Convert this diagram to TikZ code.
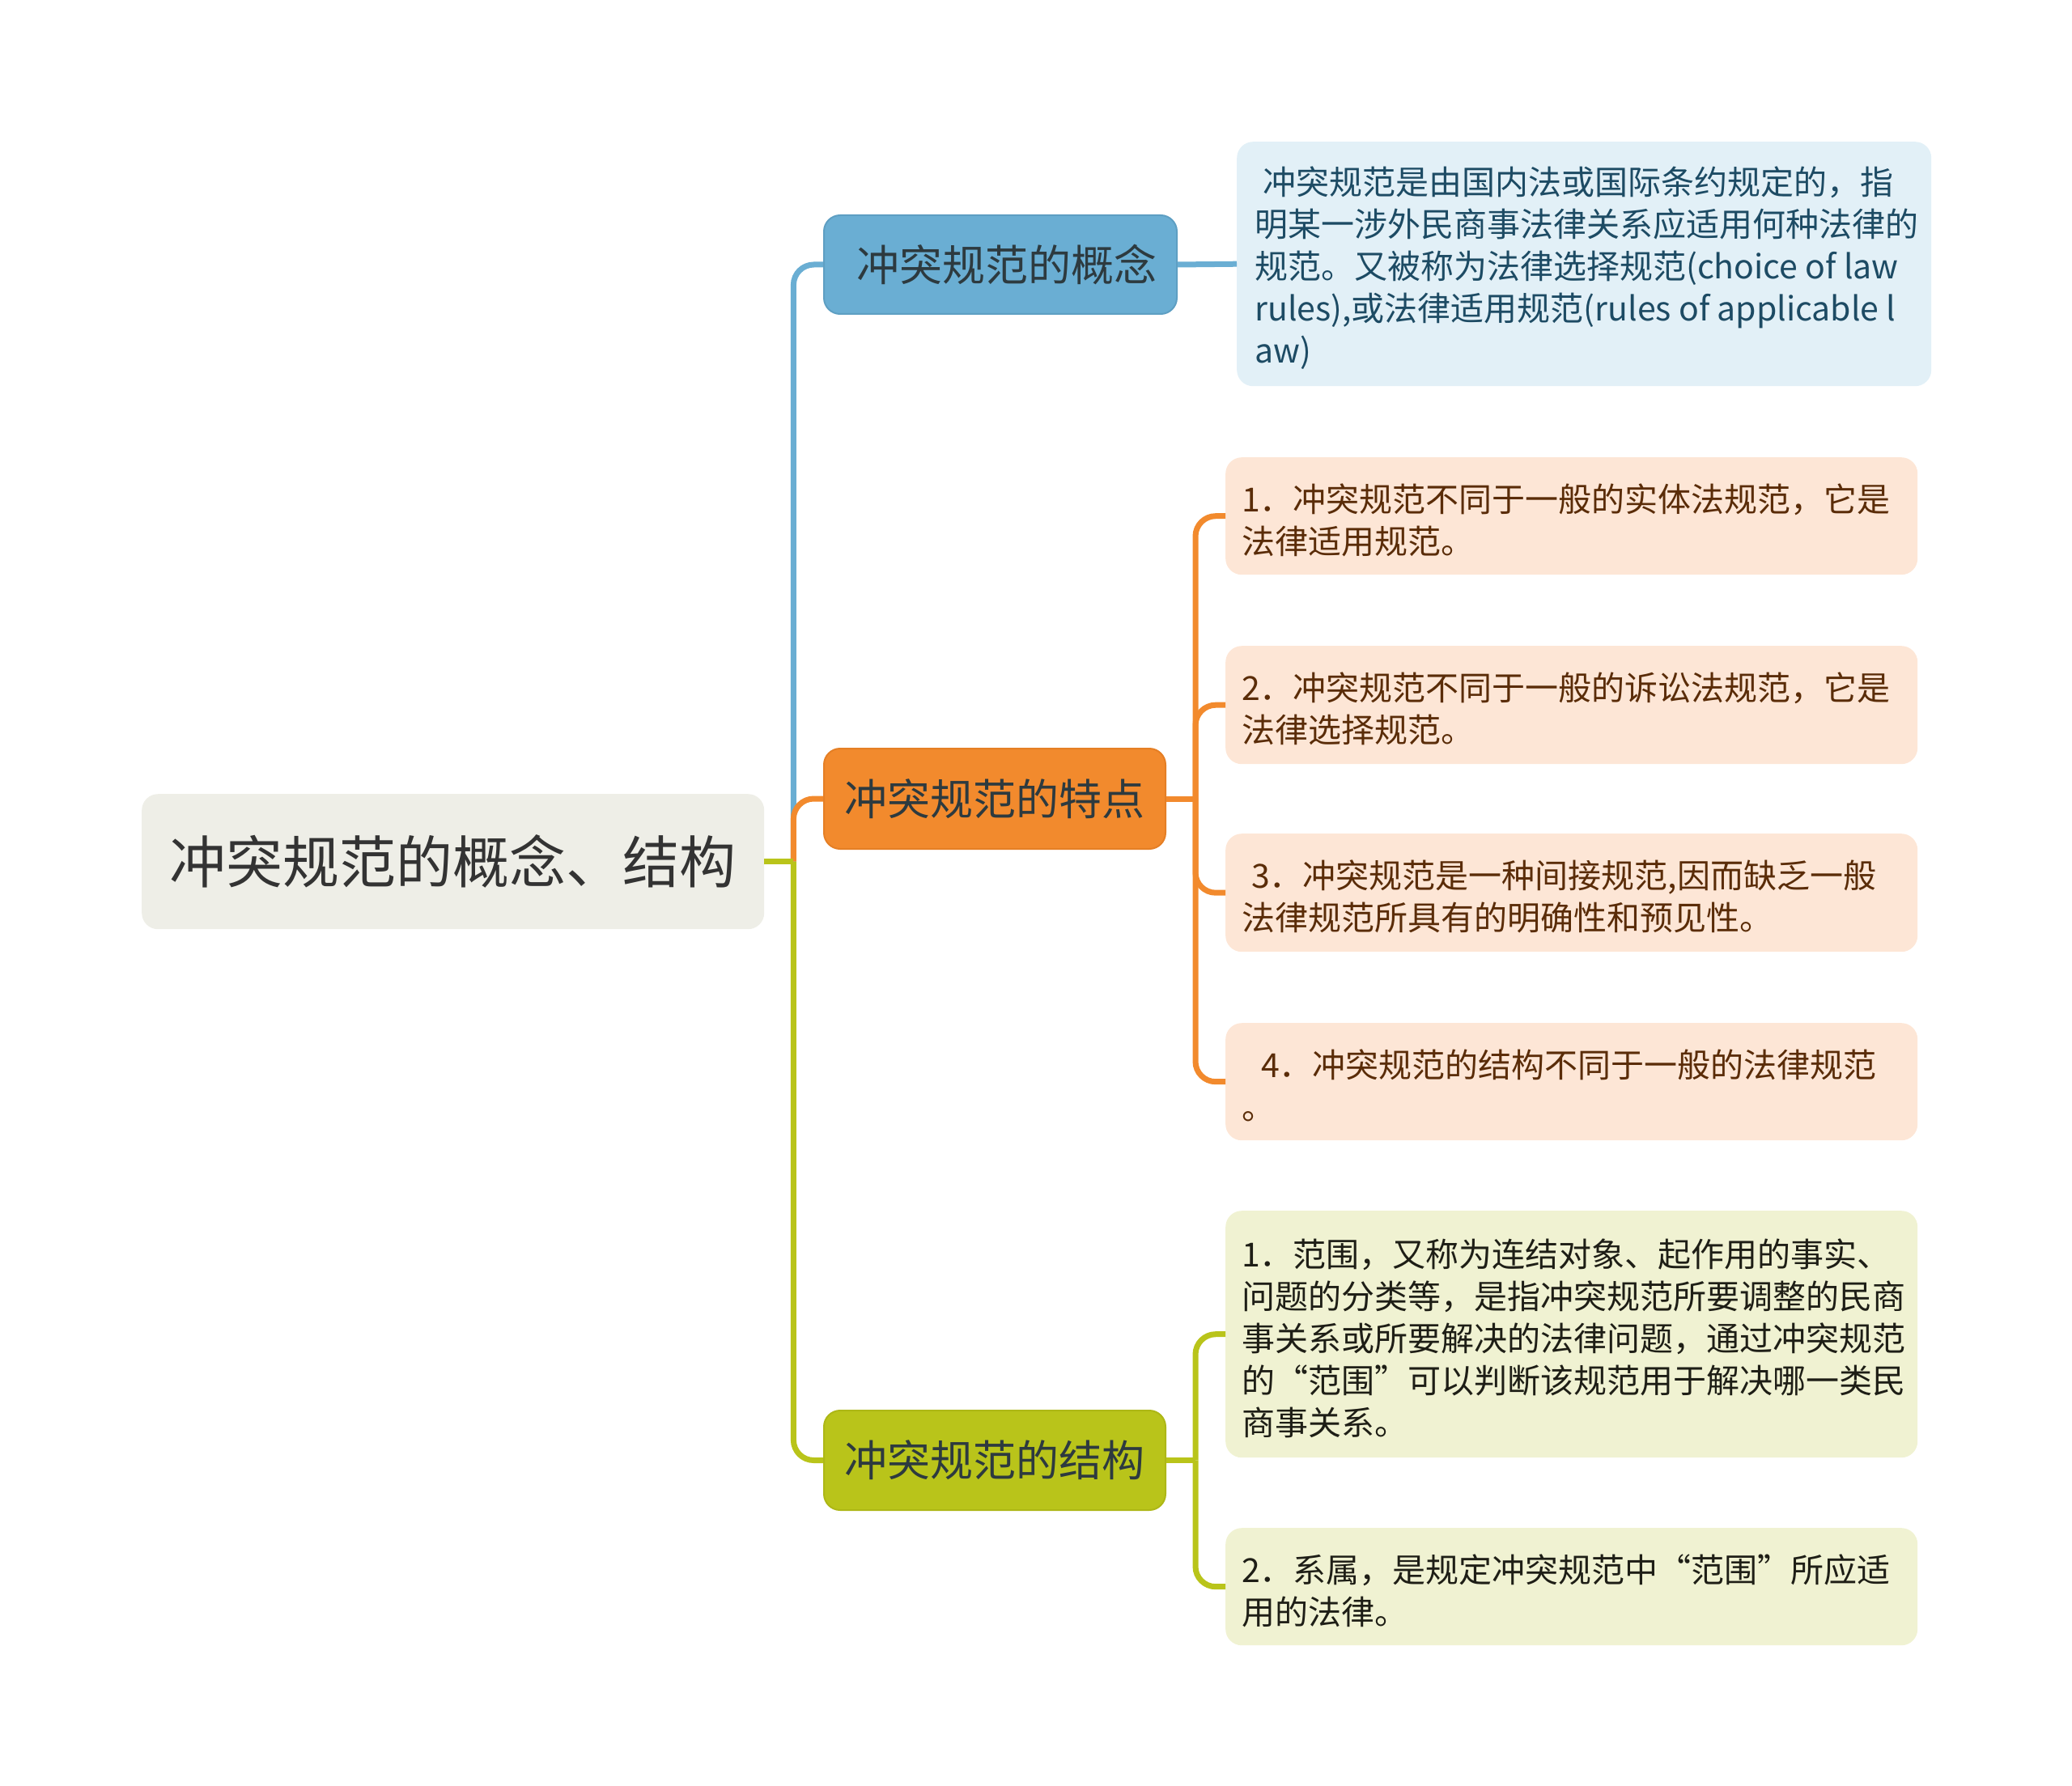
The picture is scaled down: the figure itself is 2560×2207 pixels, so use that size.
\documentclass[tikz,border=0pt]{standalone}
\usepackage{fontspec}
\setmainfont{Noto Sans CJK SC}
\definecolor{rootfill}{HTML}{EEEEE7}
\definecolor{roottext}{HTML}{333333}
\definecolor{cblue}{HTML}{6AAED3}
\definecolor{cblueb}{HTML}{5E9FC3}
\definecolor{corange}{HTML}{F28A2D}
\definecolor{coranged}{HTML}{E57F25}
\definecolor{colive}{HTML}{B9C41A}
\definecolor{colived}{HTML}{ADB716}
\definecolor{branchtext}{HTML}{2D3A3F}
\definecolor{cdfill}{HTML}{E2F0F7}
\definecolor{cdtext}{HTML}{1D4B64}
\definecolor{fdfill}{HTML}{FDE6D6}
\definecolor{fdtext}{HTML}{5A2C08}
\definecolor{sdfill}{HTML}{F0F2D2}
\definecolor{sdtext}{HTML}{1E1E16}
\begin{document}
\begin{tikzpicture}[x=1pt,y=-1pt,
  box/.style={rounded corners=20pt, inner sep=0pt, anchor=north west},
  rootbox/.style={box, fill=rootfill, text=roottext, font=\fontsize{70}{84}\selectfont},
  branchbox/.style={box, line width=2pt, text=branchtext, font=\fontsize{53}{64}\selectfont},
  dtext/.style={anchor=west, inner sep=0pt, align=left, font=\fontsize{41}{52}\selectfont, yshift=-5pt},
  conn/.style={line width=7pt, rounded corners=25pt}
]
\useasboundingbox (0,0) rectangle (2560,2207);

% main nodes
\node[rootbox, minimum width=769pt, minimum height=167pt] (root) at (175,981) {冲突规范的概念、结构};
\node[branchbox, fill=cblue, draw=cblueb, minimum width=436pt, minimum height=122pt] (concept) at (1017,265) {\hspace*{16pt}冲突规范的概念};
\node[branchbox, fill=corange, draw=coranged, minimum width=422pt, minimum height=124pt] (features) at (1017,924) {冲突规范的特点};
\node[branchbox, fill=colive, draw=colived, minimum width=422pt, minimum height=123pt] (structure) at (1017,1742) {冲突规范的结构};

% detail boxes
\node[box, fill=cdfill, minimum width=858pt, minimum height=302pt] (cdetail) at (1528,175) {};
\node[box, fill=fdfill, minimum width=855pt, minimum height=145pt] (f1) at (1514,565) {};
\node[box, fill=fdfill, minimum width=855pt, minimum height=146pt] (f2) at (1514,798) {};
\node[box, fill=fdfill, minimum width=855pt, minimum height=146pt] (f3) at (1514,1030) {};
\node[box, fill=fdfill, minimum width=855pt, minimum height=145pt] (f4) at (1514,1264) {};
\node[box, fill=sdfill, minimum width=855pt, minimum height=305pt] (s1) at (1514,1496) {};
\node[box, fill=sdfill, minimum width=855pt, minimum height=145pt] (s2) at (1514,1888) {};

% detail texts
\node[dtext, text=cdtext] (cdetailt) at ([xshift=22pt]cdetail.west) {\hspace*{10pt}冲突规范是由国内法或国际条约规定的，指\\明某一涉外民商事法律关系应适用何种法律的\\规范。又被称为法律选择规范(choice of law\\rules),或法律适用规范(rules of applicable l\\aw)};
\node[dtext, text=fdtext] (f1t) at ([xshift=20pt]f1.west) {1．冲突规范不同于一般的实体法规范，它是\\法律适用规范。};
\node[dtext, text=fdtext] (f2t) at ([xshift=20pt]f2.west) {2．冲突规范不同于一般的诉讼法规范，它是\\法律选择规范。};
\node[dtext, text=fdtext] (f3t) at ([xshift=20pt]f3.west) {\hspace*{12pt}3．冲突规范是一种间接规范,因而缺乏一般\\法律规范所具有的明确性和预见性。};
\node[dtext, text=fdtext] (f4t) at ([xshift=20pt]f4.west) {\hspace*{24pt}4．冲突规范的结构不同于一般的法律规范\\。};
\node[dtext, text=sdtext] (s1t) at ([xshift=20pt]s1.west) {1．范围，又称为连结对象、起作用的事实、\\问题的分类等，是指冲突规范所要调整的民商\\事关系或所要解决的法律问题，通过冲突规范\\的“范围”可以判断该规范用于解决哪一类民\\商事关系。};
\node[dtext, text=sdtext] (s2t) at ([xshift=20pt]s2.west) {2．系属，是规定冲突规范中“范围”所应适\\用的法律。};

% junctions
\coordinate (j1) at ([xshift=36pt]root.east);
\coordinate (j2) at ([xshift=36pt]features.east);
\coordinate (j3) at ([xshift=36pt]structure.east);

% connectors root -> branches
\draw[conn, cblue] (j1) |- (concept.west);
\draw[conn, corange] (j1) |- (features.west);
\draw[conn, colive] (j1) |- (structure.west);
\draw[conn, colive] (root.east) -- (j1);

% concept -> detail
\draw[conn, cblue] (concept.east) -- (cdetail.west);

% features -> details
\draw[conn, corange] (features.east) -- (j2);
\draw[conn, corange] (j2) |- (f1.west);
\draw[conn, corange] (j2) |- (f2.west);
\draw[conn, corange] (j2) |- (f3.west);
\draw[conn, corange] (j2) |- (f4.west);

% structure -> details
\draw[conn, colive] (structure.east) -- (j3);
\draw[conn, colive] (j3) |- (s1.west);
\draw[conn, colive] (j3) |- (s2.west);
\end{tikzpicture}
\end{document}
